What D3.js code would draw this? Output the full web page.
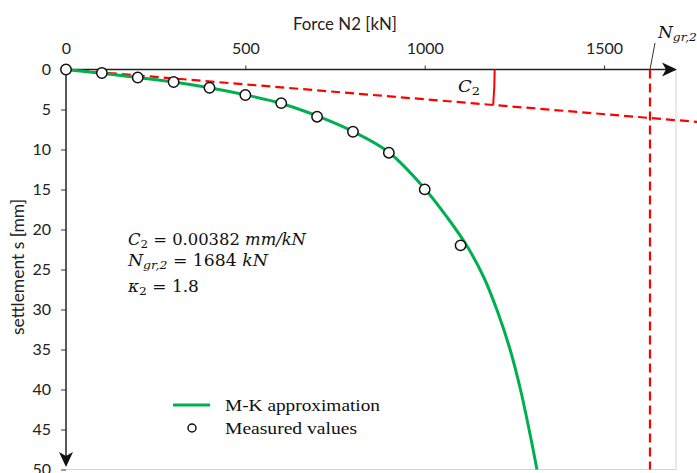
<!DOCTYPE html>
<html>
<head>
<meta charset="utf-8">
<script src="https://cdn.jsdelivr.net/npm/d3@7"></script>
<style>
  body { margin: 0; background: #fff; }
  svg { display: block; }
</style>
</head>
<body>
<svg id="chart" width="697" height="473"></svg>
<script>
// data
var xTicks = [0, 500, 1000, 1500];
var yTicks = [0, 5, 10, 15, 20, 25, 30, 35, 40, 45, 50];

var measuredN = [0, 100, 200, 300, 400, 500, 600, 700, 800, 900, 1000, 1100];
var measuredS = [0, 0.44, 1.0, 1.56, 2.28, 3.19, 4.2, 5.9, 7.78, 10.4, 14.98, 21.98];

var mkN = [0, 100, 200, 300, 400, 500, 600, 700, 800, 900, 1000, 1063, 1117, 1165, 1205, 1238, 1267, 1291, 1313];
var mkS = [0, 0.48, 1.0, 1.56, 2.28, 3.17, 4.25, 5.8, 7.75, 10.35, 14.9, 18.5, 22, 26, 30.5, 35, 40, 45, 50];

var tangentN = [0, 1760];
var tangentS = [0, 6.55];
var ngrN = 1628;     // where the vertical dashed limit line sits
var arcN = 1195;     // radius of the C2 angle arc

var svg = d3.select("#chart");

var x = d3.scaleLinear().domain([0, 1700]).range([66, 675.8]);
var y = d3.scaleLinear().domain([0, 50]).range([69.5, 469.5]);

var tickFont = "Lato, 'Open Sans', sans-serif";

// light plot border
svg.append("line").attr("x1", x(0)).attr("x2", 676).attr("y1", y(50)).attr("y2", y(50))
    .attr("stroke", "#d4d4d4").attr("stroke-width", 1);
svg.append("line").attr("x1", 676).attr("x2", 676).attr("y1", y(0)).attr("y2", y(50))
    .attr("stroke", "#d4d4d4").attr("stroke-width", 1);

// axes
var xAxis = svg.append("g")
    .attr("transform", "translate(0," + y(0) + ")")
    .call(d3.axisTop(x).tickValues(xTicks).tickSize(4).tickPadding(12).tickFormat(d3.format("d")));
xAxis.select(".domain").remove();
xAxis.selectAll(".tick line").attr("stroke", "#333").filter(d => d === 0).remove();
xAxis.selectAll("text").attr("font-family", tickFont).attr("font-size", 16).attr("fill", "#222");

var yAxis = svg.append("g")
    .attr("transform", "translate(" + x(0) + ",0)")
    .call(d3.axisLeft(y).tickValues(yTicks).tickSize(5).tickPadding(10));
yAxis.select(".domain").remove();
yAxis.selectAll(".tick line").attr("stroke", "#333").filter(d => d === 0).remove();
yAxis.selectAll("text").attr("font-family", tickFont).attr("font-size", 16).attr("fill", "#222");

// axis lines with arrow heads
svg.append("line").attr("x1", x(0)).attr("x2", 668).attr("y1", y(0)).attr("y2", y(0))
    .attr("stroke", "#222").attr("stroke-width", 1.5);
svg.append("line").attr("x1", x(0)).attr("x2", x(0)).attr("y1", y(0)).attr("y2", 460)
    .attr("stroke", "#222").attr("stroke-width", 1.5);

var tipX = 677, ay = y(0);
svg.append("path")
    .attr("d", `M${tipX},${ay} L${tipX - 15},${ay - 7} L${tipX - 11},${ay} L${tipX - 15},${ay + 7} Z`)
    .attr("fill", "#111");
var tipY = 467, ax = x(0);
svg.append("path")
    .attr("d", `M${ax},${tipY} L${ax - 7},${tipY - 15} L${ax},${tipY - 11} L${ax + 7},${tipY - 15} Z`)
    .attr("fill", "#111");

// axis titles
svg.append("text").attr("x", 293).attr("y", 30)
    .attr("font-family", tickFont).attr("font-size", 17).attr("fill", "#222")
    .attr("textLength", 104).attr("lengthAdjust", "spacingAndGlyphs")
    .text("Force N2 [kN]");
svg.append("text").attr("transform", "translate(24,267) rotate(-90)").attr("text-anchor", "middle")
    .attr("font-family", tickFont).attr("font-size", 17).attr("fill", "#222")
    .attr("textLength", 136).attr("lengthAdjust", "spacingAndGlyphs")
    .text("settlement s [mm]");

// red tangent line and limit line
svg.append("line")
    .attr("x1", x(tangentN[0])).attr("y1", y(tangentS[0]))
    .attr("x2", x(tangentN[1])).attr("y2", y(tangentS[1]))
    .attr("stroke", "#ff0000").attr("stroke-width", 2.2).attr("stroke-dasharray", "9,5");
svg.append("line")
    .attr("x1", x(ngrN)).attr("x2", x(ngrN)).attr("y1", y(0)).attr("y2", y(50))
    .attr("stroke", "#ff0000").attr("stroke-width", 2.2).attr("stroke-dasharray", "9,5");

// C2 angle arc
var r = x(arcN) - x(0);
var ang = Math.atan2(y(tangentS[1]) - y(0), x(tangentN[1]) - x(0));
svg.append("path")
    .attr("d", `M${x(0) + r},${y(0)} A${r},${r} 0 0 1 ${x(0) + r * Math.cos(ang)},${y(0) + r * Math.sin(ang)}`)
    .attr("fill", "none").attr("stroke", "#ff0000").attr("stroke-width", 2);

// leader for N_gr,2
svg.append("line").attr("x1", 655).attr("y1", 43).attr("x2", x(ngrN)).attr("y2", y(0))
    .attr("stroke", "#333").attr("stroke-width", 1);

var mathFont = "'DejaVu Serif', serif";

function mathText(px, py, parts, size, target) {
    var t = svg.append("text").attr("x", px).attr("y", py)
        .attr("font-family", mathFont).attr("font-size", size).attr("fill", "#111");
    parts.forEach(p => {
        var s = t.append("tspan").text(p.t);
        if (p.i) s.attr("font-style", "italic");
        if (p.sub) s.attr("font-size", size * 0.72).attr("baseline-shift", "-25%");
    });
    if (target) {
        var w = t.node().getBBox().width;
        t.attr("transform", `translate(${px},0) scale(${target / w},1) translate(${-px},0)`);
    }
    return t;
}

mathText(458, 92, [{t: "C", i: 1}, {t: "2", sub: 1}], 16, 22);
mathText(658, 38, [{t: "N", i: 1}, {t: "gr,2", i: 1, sub: 1}], 16, 40);

mathText(128, 245, [{t: "C", i: 1}, {t: "2", sub: 1}, {t: " = 0.00382 "}, {t: "mm/kN", i: 1}], 16, 179);
mathText(128, 266, [{t: "N", i: 1}, {t: "gr,2", i: 1, sub: 1}, {t: " = 1684 "}, {t: "kN", i: 1}], 16, 142);
mathText(128, 292, [{t: "κ", i: 1}, {t: "2", sub: 1}, {t: " = 1.8"}], 16, 72);

// M-K approximation curve
var mkData = mkN.map((n, i) => ({n: n, s: mkS[i]}));
svg.append("path")
    .datum(mkData)
    .attr("d", d3.line().x(d => x(d.n)).y(d => y(d.s)).curve(d3.curveCatmullRom.alpha(0.5)))
    .attr("fill", "none").attr("stroke", "#00b050").attr("stroke-width", 3);

// measured points
var measured = measuredN.map((n, i) => ({n: n, s: measuredS[i]}));
svg.selectAll(".pt").data(measured).enter().append("circle")
    .attr("class", "pt")
    .attr("cx", d => x(d.n)).attr("cy", d => y(d.s)).attr("r", 5.2)
    .attr("fill", "#fff").attr("stroke", "#111").attr("stroke-width", 1.5);

// legend
var legFont = "'Liberation Serif', 'Times New Roman', serif";
svg.append("line").attr("x1", 173).attr("x2", 210).attr("y1", 405).attr("y2", 405)
    .attr("stroke", "#00b050").attr("stroke-width", 3);
svg.append("circle").attr("cx", 192).attr("cy", 428).attr("r", 4)
    .attr("fill", "#fff").attr("stroke", "#111").attr("stroke-width", 1.5);
svg.append("text").attr("x", 225).attr("y", 411).attr("font-family", legFont).attr("font-size", 16)
    .attr("textLength", 155).attr("lengthAdjust", "spacingAndGlyphs").attr("fill", "#111")
    .text("M-K approximation");
svg.append("text").attr("x", 225).attr("y", 434).attr("font-family", legFont).attr("font-size", 16)
    .attr("textLength", 132).attr("lengthAdjust", "spacingAndGlyphs").attr("fill", "#111")
    .text("Measured values");
</script>
</body>
</html>
